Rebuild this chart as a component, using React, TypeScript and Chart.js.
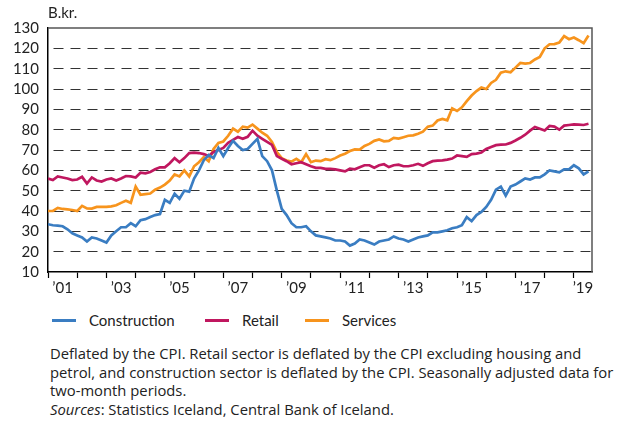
import React, { useEffect, useRef } from "react";
import { Chart, registerables } from "chart.js";

Chart.register(...registerables);

// Two-month periods starting January 2001
const startYear = 2001;
const periodsPerYear = 6;
const xMax = 2019.62;

const construction = [
  33.5, 33, 32.8, 32.5, 31, 29, 28, 27, 25, 27, 26.5, 25.5,
  24.5, 28, 30, 32, 32, 34, 32.5, 35.5, 36, 37, 38, 38.5,
  45.5, 44, 48.5, 46, 50, 49.5, 56, 60, 65, 67.5, 66, 71,
  67, 71, 74.5, 72, 70, 70.5, 73, 75.5, 67, 64.5, 60, 50,
  41, 38, 34, 32, 32, 32.5, 30, 28, 27.5, 27, 26.5, 25.5,
  25.5, 25, 23, 24, 26, 25.5, 24.5, 23.5, 25, 25.5, 26, 27.5,
  26.5, 26, 25, 26, 27, 27.5, 28, 29.5, 29.5, 30, 30.5, 31.5,
  32, 33, 37, 35, 38, 39.5, 42, 45.5, 50.5, 52, 47.5, 52,
  53, 54.5, 56, 55.5, 56.5, 56.5, 58, 60, 59.5, 59, 60.5, 60.5,
  62.5, 61, 58, 59.5,
];

const retail = [
  56, 55.2, 57, 56.5, 56, 55.2, 55.5, 56.8, 53.5, 56.5, 55, 54.5,
  55.5, 56, 55, 56, 57.2, 57, 56.5, 58.8, 58.5, 59.2, 60.5, 61.5,
  61.5, 63.5, 66, 64, 66, 68.5, 68.7, 68.5, 68, 67, 69, 70,
  71, 73.5, 75, 76.4, 75.5, 76.5, 79.5, 77, 75.5, 74, 72.5, 67,
  65.7, 64.5, 63, 63.5, 64, 63, 62, 61.2, 61.2, 60.7, 60.7, 60.5,
  60, 59.5, 60.8, 60.5, 61.5, 62.5, 62.5, 61.3, 62.5, 63, 61.6, 62.5,
  62.8, 62, 62, 62.5, 63.2, 62.2, 63.5, 64.5, 64.8, 64.9, 65.3, 65.8,
  67.3, 67, 66.6, 68, 68.2, 68.8, 70.5, 71.5, 72.4, 72.6, 72.7, 73.5,
  74.7, 76, 77.5, 79.5, 81.3, 80.5, 79.6, 81.8, 81.5, 80, 82, 82.3,
  82.6, 82.5, 82.3, 82.9,
];

const services = [
  40, 40, 41.5, 41, 40.8, 40.5, 40, 42.5, 41.3, 41.2, 42, 42,
  42, 42.3, 42.8, 44, 45, 44, 52, 48, 48.3, 48.6, 50.5, 51.5,
  53, 55, 58, 57, 60, 57, 62, 64, 66.5, 64.5, 70.5, 73.5,
  74.2, 77, 80.5, 79, 81.5, 81, 82.5, 80.5, 78.5, 77, 74, 69,
  66, 64.8, 64.3, 65.7, 64, 68, 64, 64.8, 64.5, 65.5, 65, 66,
  67.3, 68.2, 69.5, 70.3, 70.2, 72, 73, 74.5, 75.2, 74.3, 74.5, 76,
  75.6, 76.3, 77, 77.2, 78, 79, 81.5, 82, 84.5, 85.3, 84.6, 90.5,
  89.2, 91, 94, 96.8, 99, 100.7, 100, 103, 104.5, 108, 108.7, 108.2,
  110.5, 112.8, 112.5, 112.8, 114.5, 115.8, 120, 122, 122.1, 122.8, 126, 124.5,
  125.3, 124, 122.5, 126.3,
];

const seriesNames = ["Construction", "Retail", "Services"];
const seriesColors = ["#3a7dc2", "#c0175f", "#f7941d"];

const yearTicks = [
  2001, 2002, 2003, 2004, 2005, 2006, 2007, 2008, 2009, 2010,
  2011, 2012, 2013, 2014, 2015, 2016, 2017, 2018, 2019,
];
const labelYears = [2001, 2003, 2005, 2007, 2009, 2011, 2013, 2015, 2017, 2019];
const yearLabels = ["\u201901", "\u201903", "\u201905", "\u201907", "\u201909", "\u201911", "\u201913", "\u201915", "\u201917", "\u201919"];

const yTicks = [10, 20, 30, 40, 50, 60, 70, 80, 90, 100, 110, 120, 130];

const unitLabel = "B.kr.";
const noteLines = [
  "Deflated by the CPI. Retail sector is deflated by the CPI excluding housing and",
  "petrol, and construction sector is deflated by the CPI. Seasonally adjusted data for",
  "two-month periods.",
];

const FONT = "Lato, 'Open Sans', sans-serif";
const NOTE_FONT = "'Open Sans', Lato, sans-serif";

const labelPositions = labelYears.map((y) => (y + Math.min(y + 1, xMax)) / 2);

const toPoints = (arr: number[]) =>
  arr.map((v, i) => ({ x: startYear + i / periodsPerYear, y: v }));

const framePlugin = {
  id: "frame",
  beforeDatasetsDraw(chart: any) {
    const { ctx, chartArea } = chart;
    ctx.save();
    ctx.strokeStyle = "#555";
    ctx.lineWidth = 1.5;
    ctx.beginPath();
    ctx.moveTo(chartArea.left, chartArea.top);
    ctx.lineTo(chartArea.right, chartArea.top);
    ctx.lineTo(chartArea.right, chartArea.bottom);
    ctx.stroke();
    ctx.restore();
  },
};

function ChartCanvas() {
  const ref = useRef<HTMLCanvasElement | null>(null);
  useEffect(() => {
    if (!ref.current) return;
    const data = [construction, retail, services];
    const chart = new Chart(ref.current, {
      type: "line",
      data: {
        datasets: data.map((d, k) => ({
          label: seriesNames[k],
          data: toPoints(d),
          borderColor: seriesColors[k],
          backgroundColor: seriesColors[k],
          borderWidth: 2.7,
          pointRadius: 0,
          tension: 0,
          fill: false,
        })),
      },
      options: {
        animation: false,
        responsive: false,
        maintainAspectRatio: false,
        layout: { padding: { left: 8, right: 35, top: 28, bottom: 0 } },
        plugins: {
          legend: { display: false },
          tooltip: { enabled: false },
          title: { display: false },
        },
        scales: {
          x: {
            type: "linear",
            min: startYear,
            max: xMax,
            afterBuildTicks: (axis: any) => {
              const vals = [...yearTicks, ...labelPositions].sort((a, b) => a - b);
              axis.ticks = vals.map((v) => ({ value: v }));
            },
            afterFit: (axis: any) => {
              axis.height = 28;
            },
            ticks: {
              autoSkip: false,
              maxRotation: 0,
              minRotation: 0,
              padding: 1,
              color: "#222",
              font: { family: FONT, size: 15 },
              callback: (value: any) => {
                const idx = labelPositions.findIndex((p) => Math.abs(p - value) < 1e-6);
                return idx >= 0 ? yearLabels[idx] : "";
              },
            },
            grid: {
              drawOnChartArea: false,
              drawTicks: true,
              tickLength: 6,
              tickWidth: 1.2,
              color: (c: any) =>
                c.tick && Number.isInteger(c.tick.value) ? "#000" : "rgba(0,0,0,0)",
              tickColor: (c: any) =>
                c.tick && Number.isInteger(c.tick.value) ? "#000" : "rgba(0,0,0,0)",
            },
            border: { display: true, color: "#000", width: 1.5 },
          },
          y: {
            type: "linear",
            min: 10,
            max: 130,
            afterBuildTicks: (axis: any) => {
              axis.ticks = yTicks.map((v) => ({ value: v }));
            },
            afterFit: (axis: any) => {
              axis.width = 40;
            },
            ticks: {
              autoSkip: false,
              padding: 9,
              color: "#222",
              font: { family: FONT, size: 15 },
            },
            grid: {
              drawTicks: false,
              lineWidth: 1,
              color: (c: any) =>
                c.tick && (c.tick.value === 10 || c.tick.value === 130)
                  ? "rgba(0,0,0,0)"
                  : "#333",
            },
            border: { display: true, color: "#000", width: 1.5, dash: [10, 7], dashOffset: 12 },
          },
        },
      },
      plugins: [framePlugin],
    } as any);
    return () => chart.destroy();
  }, []);
  return <canvas ref={ref} width={627} height={300} style={{ display: "block", width: 627, height: 300 }} />;
}

export default function App() {
  return (
    <div
      style={{
        position: "absolute",
        left: 0,
        top: 0,
        width: 627,
        height: 424,
        background: "#fff",
        overflow: "hidden",
        fontFamily: FONT,
        color: "#222",
      }}
    >
      <ChartCanvas />
      <div style={{ position: "absolute", left: 48, top: 3, fontSize: 15 }}>{unitLabel}</div>
      <div style={{ position: "absolute", left: 0, top: 310, height: 20, width: 627 }}>
        {seriesNames.map((n, k) => {
          const lefts = [52, 205, 305];
          return (
            <div key={n} style={{ position: "absolute", left: lefts[k], top: 0, height: 20, display: "flex", alignItems: "center" }}>
              <div style={{ width: 24, height: 3, background: seriesColors[k], marginRight: 13 }} />
              <span style={{ fontSize: 15 }}>{n}</span>
            </div>
          );
        })}
      </div>
      <div style={{ position: "absolute", left: 50, top: 344, width: 577, fontSize: 14.8, lineHeight: "18.7px", fontFamily: NOTE_FONT, whiteSpace: "nowrap" }}>
        {noteLines.map((l) => (
          <div key={l}>{l}</div>
        ))}
        <div>
          <i>Sources</i>: Statistics Iceland, Central Bank of Iceland.
        </div>
      </div>
    </div>
  );
}
